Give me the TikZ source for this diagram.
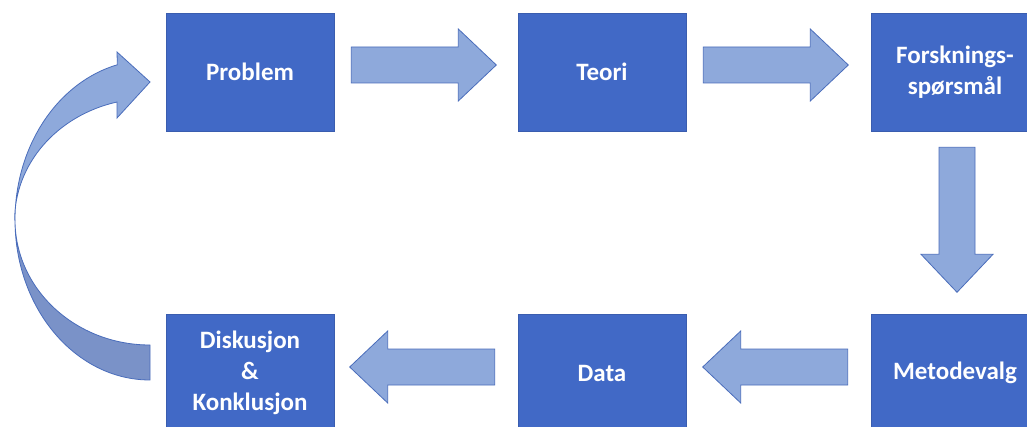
\documentclass[tikz,border=0pt]{standalone}
\usepackage{fontspec}
\setmainfont{Carlito}
\usetikzlibrary{calc}

\definecolor{boxblue}{HTML}{4169C6}
\definecolor{boxedge}{HTML}{3A5DAF}
\definecolor{arrowfill}{HTML}{8EA9DB}
\definecolor{arrowedge}{HTML}{4A6DBB}
\definecolor{backfill}{HTML}{7A92C8}

\tikzset{
  stepbox/.style={fill=boxblue, draw=boxedge, line width=0.6pt,
    minimum width=168pt, minimum height=118pt, inner sep=0pt,
    text=white, align=center,
    font=\fontsize{25}{31}\selectfont\bfseries},
  blockarrow/.style={fill=arrowfill, draw=arrowedge, line width=0.8pt,
    line join=miter},
  bandback/.style={fill=backfill, draw=arrowedge, line width=0.8pt},
}

% block arrow: tail centre #1, direction #2 (degrees)
\newcommand\blockarrowat[2]{%
  \path[blockarrow, shift={(#1)}, rotate=#2]
    (0,-18) -- (107,-18) -- (107,-36) -- (145,0) -- (107,36)
    -- (107,18) -- (0,18) -- cycle;}

\begin{document}
\begin{tikzpicture}[x=1pt, y=-1pt]
  \useasboundingbox (0,0) rectangle (1027,427);
  \fill[white] (0,0) rectangle (1027,427);
  \clip (0,0) rectangle (1027,427);

  % process steps
  \node[stepbox] (p) at (250,72)  {Problem};
  \node[stepbox] (t) at (602,72)  {Teori};
  \node[stepbox] (f) at (955,72)  {Forsknings-\\spørsmål};
  \node[stepbox] (m) at (955,373) {Metodevalg};
  \node[stepbox] (d) at (602,373) {Data};
  \node[stepbox] (k) at (250,373) {Diskusjon\\\&\\Konklusjon};

  % straight block arrows between the steps
  \blockarrowat{$(p.east)+(17,-7)$}{0}
  \blockarrowat{$(t.east)+(17,-7)$}{0}
  \blockarrowat{$(f.south)+(2,16)$}{-90}
  \blockarrowat{$(m.west)+(-23,-6)$}{180}
  \blockarrowat{$(d.west)+(-23,-6)$}{180}

  % curved return arrow: back face (lower band)
  \path[bandback] (150,380)
    arc[start angle=90, end angle=180, x radius=135, y radius=160]
    arc[start angle=180, end angle=90, x radius=135, y radius=125]
    -- cycle;
  % curved return arrow: front face (upper band) with head
  \path[blockarrow] (15,220)
    arc[start angle=180, end angle=256, x radius=135, y radius=160]
    -- (117,52) -- (150,82) -- (117,118) -- (117,102)
    arc[start angle=256, end angle=180, x radius=135, y radius=121.6]
    -- cycle;
\end{tikzpicture}
\end{document}
